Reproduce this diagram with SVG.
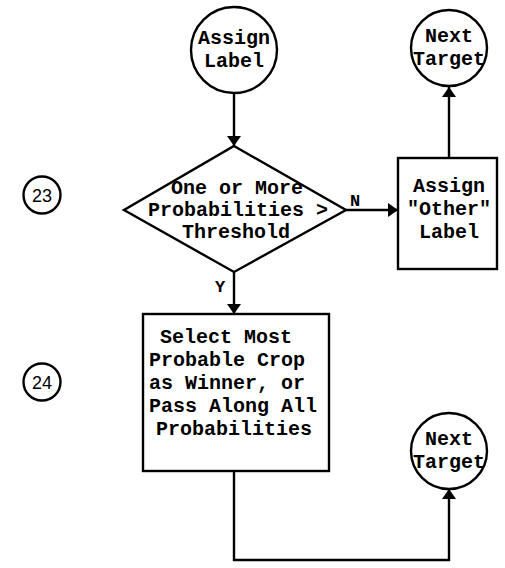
<svg xmlns="http://www.w3.org/2000/svg" width="505" height="568" viewBox="0 0 505 568">
  <style>
    .shape { fill: #fff; stroke: #000; stroke-width: 2.4; }
    .line { fill: none; stroke: #000; stroke-width: 2.4; }
    .txt { font-family: "Liberation Mono", "DejaVu Sans Mono", monospace; font-size: 20px; font-weight: bold; fill: #000; text-anchor: middle; }
    .left { text-anchor: start; }
    .lbl { font-size: 17px; }
    .tag { font-family: "Liberation Sans", "DejaVu Sans", sans-serif; font-size: 18px; fill: #000; text-anchor: middle; }
  </style>
  <defs>
    <marker id="arrow" viewBox="0 0 10 20" refX="10" refY="10" markerWidth="10" markerHeight="20" markerUnits="userSpaceOnUse" orient="auto">
      <path d="M0,3 L10,10 L0,17 Z" fill="#000"/>
    </marker>
  </defs>

  <!-- step numbers -->
  <g id="step23">
    <circle class="shape" cx="42" cy="195" r="18.5"/>
    <text class="tag" x="42" y="201.5">23</text>
  </g>
  <g id="step24">
    <circle class="shape" cx="42" cy="382" r="18.5"/>
    <text class="tag" x="42" y="388.5">24</text>
  </g>

  <!-- connectors -->
  <g id="connectors">
    <line class="line" x1="234" y1="93" x2="234" y2="146" marker-end="url(#arrow)"/>
    <line class="line" x1="346" y1="210" x2="398" y2="210" marker-end="url(#arrow)"/>
    <line class="line" x1="449" y1="158" x2="449" y2="87" marker-end="url(#arrow)"/>
    <line class="line" x1="234" y1="272" x2="234" y2="314" marker-end="url(#arrow)"/>
    <polyline class="line" points="234,471 234,560 449,560 449,489" marker-end="url(#arrow)"/>
    <text class="txt lbl" x="355" y="206">N</text>
    <text class="txt lbl" x="220" y="292">Y</text>
  </g>

  <g id="assign-label">
    <circle class="shape" cx="234" cy="50" r="43"/>
    <text class="txt" x="234" y="44">Assign</text>
    <text class="txt" x="234" y="67">Label</text>
  </g>

  <g id="threshold">
    <polygon class="shape" points="234,146 346,210 234,272 124,210"/>
    <text class="txt" x="237" y="194">One or More</text>
    <text class="txt" x="238" y="216">Probabilities &gt;</text>
    <text class="txt" x="236" y="238">Threshold</text>
  </g>

  <g id="assign-other">
    <rect class="shape" x="398" y="158" width="99" height="111"/>
    <text class="txt" x="449" y="192">Assign</text>
    <text class="txt" x="449" y="215">"Other"</text>
    <text class="txt" x="449" y="238">Label</text>
  </g>

  <g id="next-target-1">
    <circle class="shape" cx="449" cy="48" r="38"/>
    <text class="txt" x="449" y="42">Next</text>
    <text class="txt" x="449" y="65">Target</text>
  </g>

  <g id="select-winner">
    <rect class="shape" x="143" y="314" width="186" height="157"/>
    <text class="txt left" x="160" y="343">Select Most</text>
    <text class="txt left" x="149" y="366">Probable Crop</text>
    <text class="txt left" x="149" y="389">as Winner, or</text>
    <text class="txt left" x="149" y="412">Pass Along All</text>
    <text class="txt left" x="156" y="435">Probabilities</text>
  </g>

  <g id="next-target-2">
    <circle class="shape" cx="449" cy="451" r="38"/>
    <text class="txt" x="449" y="445">Next</text>
    <text class="txt" x="449" y="468">Target</text>
  </g>
</svg>
